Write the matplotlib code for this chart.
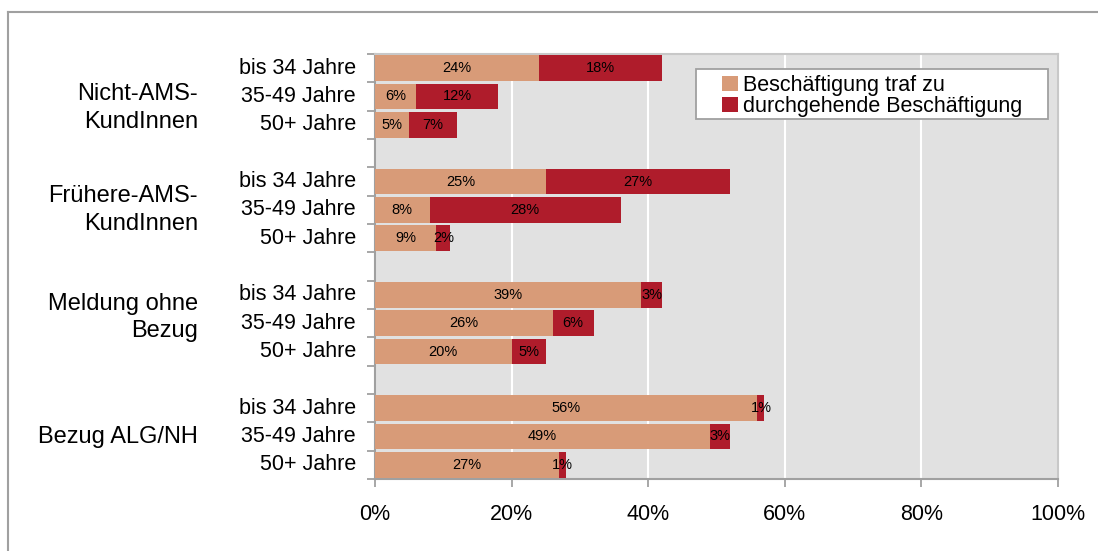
import numpy as np
import matplotlib.pyplot as plt
from matplotlib.patches import Rectangle
from matplotlib.lines import Line2D

plt.rcParams['font.family'] = ['Liberation Sans', 'DejaVu Sans']

# data (percent)
groups = ["Nicht-AMS-\nKundInnen", "Frühere-AMS-\nKundInnen", "Meldung ohne\nBezug", "Bezug ALG/NH"]
ages = ["bis 34 Jahre", "35-49 Jahre", "50+ Jahre"]
traf_zu = [24, 6, 5, 25, 8, 9, 39, 26, 20, 56, 49, 27]
durchgehend = [18, 12, 7, 27, 28, 2, 3, 6, 5, 1, 3, 1]
series_names = ["Beschäftigung traf zu", "durchgehende Beschäftigung"]

c_light = "#D89B78"
c_dark = "#AF1C2B"
big = 15.5

W, H = 1098, 551
fig = plt.figure(figsize=(W / 100, H / 100), dpi=100)
ax = fig.add_axes([375 / W, 1 - 479 / H, (1058 - 375) / W, (479 - 54) / H])
ax.set_facecolor("#E1E1E1")

# slot positions: 3 bars per group + one empty slot between groups
slots = np.array([4 * g + a for g in range(len(groups)) for a in range(len(ages))])
a_vals = np.array(traf_zu) / 100
b_vals = np.array(durchgehend) / 100

b1 = ax.barh(slots, a_vals, height=0.9, color=c_light, zorder=3, label=series_names[0])
b2 = ax.barh(slots, b_vals, left=a_vals, height=0.9, color=c_dark, zorder=3, label=series_names[1])
ax.bar_label(b1, labels=[f"{v}%" for v in traf_zu], label_type="center", fontsize=10.5, zorder=4)
ax.bar_label(b2, labels=[f"{v}%" for v in durchgehend], label_type="center", fontsize=10.5, zorder=4)

ax.set_xlim(0, 1)
ax.set_ylim(14.5, -0.5)
ax.set_xticks(np.arange(0, 1.01, 0.2))
ax.set_xticklabels([f"{int(round(t * 100))}%" for t in np.arange(0, 1.01, 0.2)], fontsize=big)
ax.set_yticks(np.arange(-0.5, 15, 1))
ax.set_yticklabels([])
ax.tick_params(axis="both", direction="out", length=6, width=1.3, color="#A0A0A0")
ax.tick_params(axis="x", pad=12)
ax.xaxis.grid(True, color="white", linewidth=1.5, zorder=1)
ax.set_axisbelow(True)

for s in ["left", "bottom"]:
    ax.spines[s].set_color("#A0A0A0")
    ax.spines[s].set_linewidth(1.5)
for s in ["top", "right"]:
    ax.spines[s].set_color("#C8C8C8")
    ax.spines[s].set_linewidth(1.5)

# age labels
for i, s in enumerate(slots):
    ax.text(-0.028, s, ages[i % 3], ha="right", va="center", fontsize=big,
            transform=ax.get_yaxis_transform())

# group labels
offsets = [0.4, 0.0, -0.2, 0.0]
for g, name in enumerate(groups):
    ax.text(-0.259, 4 * g + 1 + offsets[g], name, ha="right", va="center", fontsize=17,
            linespacing=1.32, transform=ax.get_yaxis_transform())

# legend box
fig.patches.append(Rectangle((696 / W, 1 - 119 / H), (1048 - 696) / W, 50 / H,
                             transform=fig.transFigure, facecolor="white",
                             edgecolor="#A0A0A0", linewidth=1.3, zorder=5))
leg = fig.legend(handles=[b1, b2], loc="center", bbox_to_anchor=((696 + 1048) / 2 / W, 1 - 96 / H),
                 frameon=False, fontsize=big, handlelength=0.75, handleheight=0.75,
                 handletextpad=0.2, labelspacing=0.0, borderpad=0)
leg.set_zorder(6)

# outer border (left and top only visible)
fig.add_artist(Line2D([8 / W, 8 / W], [0, 1 - 12 / H], transform=fig.transFigure,
                      color="#A0A0A0", linewidth=1.5))
fig.add_artist(Line2D([8 / W, 1], [1 - 12 / H, 1 - 12 / H], transform=fig.transFigure,
                      color="#A0A0A0", linewidth=1.5))

fig.savefig("out.png", dpi=100)
plt.close(fig)
